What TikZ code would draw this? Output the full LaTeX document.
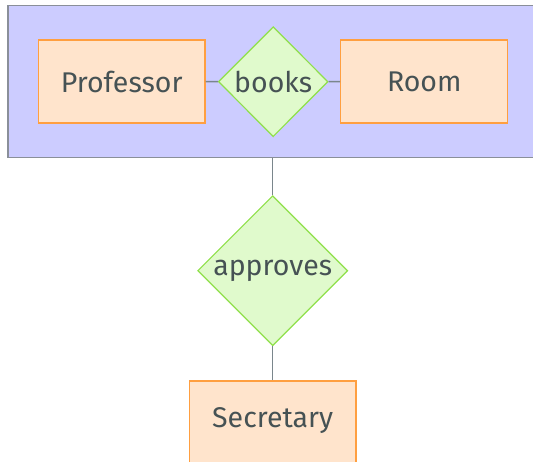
\documentclass[tikz,border=0pt]{standalone}
\usepackage{fontspec}
\setmainfont{Fira Sans}
\usetikzlibrary{shapes.geometric}
\definecolor{grpfill}{HTML}{CCCCFF}
\definecolor{grpline}{HTML}{8A8F99}
\definecolor{entfill}{HTML}{FFE4CC}
\definecolor{entline}{HTML}{FF9F40}
\definecolor{relfill}{HTML}{E0FACC}
\definecolor{relline}{HTML}{8FE04A}
\definecolor{txt}{HTML}{465254}
\definecolor{conn}{HTML}{7A868C}
\tikzset{
  entity/.style={rectangle, draw=entline, fill=entfill, line width=1.2pt, inner sep=0pt, text=txt, font=\fontsize{28.5}{34}\selectfont},
  rel/.style={diamond, draw=relline, fill=relfill, line width=1.2pt, inner sep=0pt, aspect=1, text=txt, font=\fontsize{28.5}{34}\selectfont},
  grp/.style={rectangle, draw=grpline, fill=grpfill, line width=1.2pt, inner sep=0pt},
  link/.style={draw=conn, line width=1.5pt}
}
\begin{document}
\begin{tikzpicture}[x=1pt,y=-1pt]
\useasboundingbox (0,0) rectangle (533,462);
\fill[white] (0,0) rectangle (533,462);
\node[grp, minimum width=540pt, minimum height=151.6pt] (group) at (278,81.5) {};
\node[entity, minimum width=166.6pt, minimum height=83pt] (prof) at (121.7,81.5) {Professor};
\node[rel, minimum width=109.6pt, minimum height=110pt] (books) at (273.2,81.7) {books};
\node[entity, minimum width=167pt, minimum height=83pt] (room) at (424.3,81.5) {Room};
\node[rel, minimum width=150pt, minimum height=150pt] (approves) at (272.7,270.7) {approves};
\node[entity, minimum width=166.7pt, minimum height=100pt] (sec) at (272.7,431) {};
\node[text=txt, font=\fontsize{28.5}{34}\selectfont] (sectxt) at (272.7,420.5) {Secretary};
\draw[link] (prof.east) -- (books.west);
\draw[link] (books.east) -- (room.west);
\draw[link] (group.south -| approves.north) -- (approves.north);
\draw[link] (approves.south) -- (sec.north);
\end{tikzpicture}
\end{document}
